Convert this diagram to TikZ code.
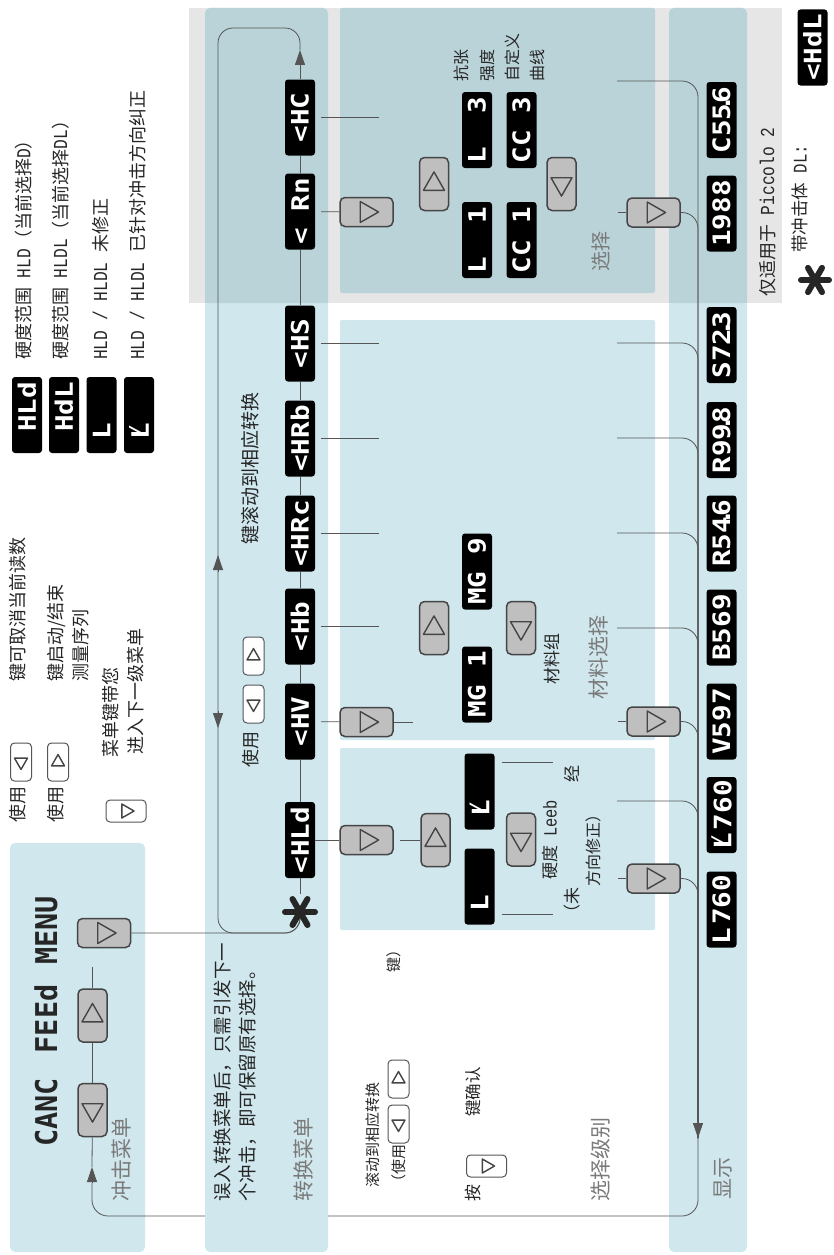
\documentclass[tikz,border=0pt]{standalone}
\usepackage{fontspec}
\usepackage{graphicx}
\setmainfont{Noto Sans CJK SC}
\newfontfamily\lat[Scale=1.1, FakeStretch=0.82]{Liberation Mono}
\newfontfamily\segfont[FakeStretch=1.15]{DejaVu Sans Mono}
\newfontfamily\bigseg[FakeStretch=0.95]{DejaVu Sans Mono}
\usetikzlibrary{arrows.meta}

\definecolor{panel}{HTML}{CFE7ED}
\definecolor{greybg}{HTML}{E6E6E6}
\definecolor{ovl}{HTML}{B9D3D8}
\definecolor{btnfill}{HTML}{BFBFBF}
\definecolor{btnline}{HTML}{454545}
\definecolor{connc}{HTML}{555555}
\definecolor{hdrgray}{HTML}{7A7A7A}
\definecolor{ink}{HTML}{262626}

\newcommand{\dpt}{\makebox[0pt]{.}}
\newcommand{\Lp}{L\makebox[0pt][r]{\raisebox{0.32em}{\scalebox{0.7}{/}}\hspace{2pt}}}

\tikzset{
  conn/.style={draw=connc, line width=0.8pt},
  arr/.style={-{Triangle[length=15pt,width=10pt]}},
  disp/.style={fill=black, rounded corners=3pt, rotate=90, minimum width=76pt, minimum height=30pt, inner sep=0pt, text=white, font=\segfont\bfseries\fontsize{24}{24}\selectfont},
  txt/.style={rotate=90, anchor=base west, inner sep=0pt, text=ink, font=\fontsize{18}{22}\selectfont},
  hdr/.style={txt, text=hdrgray, font=\fontsize{21}{25}\selectfont},
  tri/.style={draw=btnline, line width=1.4pt, sharp corners, line join=round},
  btn/.style={draw=btnline, fill=btnfill, line width=1.5pt, rounded corners=5pt, inner sep=0pt},
  kbtn/.style={draw=connc, fill=white, line width=1pt, rounded corners=4pt, inner sep=0pt},
  tall/.style={minimum width=29pt, minimum height=53pt},
  wide/.style={minimum width=53pt, minimum height=29pt},
  ktall/.style={minimum width=21pt, minimum height=38pt},
  kwide/.style={minimum width=40pt, minimum height=22pt},
  trdn/.style={path picture={\draw[tri] ([shift={(-#1pt,0.6*#1pt)}]path picture bounding box.center) -- ++(2*#1pt,0pt) -- ++(-#1pt,-1.75*#1pt) -- cycle;}},
  trup/.style={path picture={\draw[tri] ([shift={(-#1pt,-0.6*#1pt)}]path picture bounding box.center) -- ++(2*#1pt,0pt) -- ++(-#1pt,1.75*#1pt) -- cycle;}},
  trrt/.style={path picture={\draw[tri] ([shift={(-0.6*#1pt,#1pt)}]path picture bounding box.center) -- ++(0pt,-2*#1pt) -- ++(1.75*#1pt,#1pt) -- cycle;}},
  spoke/.style={draw=ink, line width=6pt, line cap=round},
}

\begin{document}
\begin{tikzpicture}[x=1pt, y=-1pt]
    \useasboundingbox (0,0) rectangle (833,1255);
    \def\mx{300}   % 转换菜单列
    \def\bx{366.5} % 确认键列
    \def\dx{721.5} % 显示列

    % 背景
    \fill[greybg] (189,8) rectangle (782,303);
    \fill[panel, rounded corners=5pt] (10,843) rectangle (145,1252);
    \fill[panel, rounded corners=5pt] (669,8) rectangle (747,1252);
    \fill[ovl, rounded corners=5pt] (669,8) rectangle (747,303);
    \fill[ovl] (669,290) rectangle (747,303);

    % 返回路径（在面板下面）
    \coordinate (darr) at (698,1138);
    \coordinate (floor) at (92,1216);
    \coordinate (uarrB) at (92,1183);
    \coordinate (uarr) at (92,1167);
    \draw[conn, rounded corners=16pt] (darr) |- (floor) -- (uarrB);

    \fill[panel, rounded corners=5pt] (205,8) rectangle (328,1252);
    \fill[ovl, rounded corners=5pt] (205,8) rectangle (328,303);
    \fill[ovl] (205,290) rectangle (328,303);
    \fill[ovl, rounded corners=2pt] (340,8) rectangle (655,293);
    \fill[panel, rounded corners=2pt] (340,320) rectangle (655,740);
    \fill[panel, rounded corners=2pt] (340,748) rectangle (655,930);

    % 图例
    \node[txt] (gUse1) at (24,823) {使用};
    \node[kbtn, ktall, trdn=6.5] (gK1) at (21,762) {};
    \node[txt] (gCancel) at (24,682) {键可取消当前读数};
    \node[txt] (gUse2) at (62,823) {使用};
    \node[kbtn, ktall, trup=6.5] (gK2) at (58,762) {};
    \node[txt] (gStartA) at (62.5,682) {键启动/结束};
    \node[txt] (gStartB) at (87,682) {测量序列};
    \node[kbtn, kwide, trrt=7] (gK3) at (126,811) {};
    \node[txt] (gMenuA) at (117,758) {菜单键带您};
    \node[txt] (gMenuB) at (142,755) {进入下一级菜单};

    \node[disp] (gHLd) at (27,415) {~HLd};
    \node[disp] (gHdL) at (64,415) {~HdL};
    \node[disp] (gL) at (101.5,415) {L~~~};
    \node[disp] (gLc) at (139,415) {\Lp~~~};
    \node[txt] (gHLdT) at (30.5,360) {硬度范围{\lat\ HLD}（当前选择{\lat D}）};
    \node[txt] (gHdLT) at (67,360) {硬度范围{\lat\ HLDL}（当前选择{\lat DL}）};
    \node[txt] (gLT) at (107,360) {{\lat HLD / HLDL\ }未修正};
    \node[txt] (gLcT) at (144,360) {{\lat HLD / HLDL\ }已针对冲击方向纠正};

    % 冲击菜单
    \node[rotate=90, anchor=west, inner sep=0pt, text=ink, font=\bigseg\bfseries\fontsize{30}{30}\selectfont] (canc) at (46,1147) {CANC\hspace{25pt}FEEd\hspace{20pt}MENU};
    \node[btn, tall, trdn=10.5] (cdn) at (92.5,1110) {};
    \node[btn, tall, trup=10.5] (cup) at (92.5,1015.5) {};
    \node[btn, wide, trrt=10.5] (cok) at (104,933) {};
    \coordinate (ctop) at (92.5,967);
    \draw[conn] (cdn) -- (cup) -- (ctop);
    \draw[conn] (uarr) -- (cdn);
    \draw[conn, arr] (uarrB) -- (uarr);
    \node[hdr] (tImpact) at (129,1202) {冲击菜单};

    % 转换菜单
    \node[txt, font=\fontsize{18.5}{22}\selectfont] (tHintA) at (229,1202) {误入转换菜单后，只需引发下一};
    \node[txt, font=\fontsize{18.5}{22}\selectfont] (tHintB) at (254,1202) {个冲击，即可保留原有选择。};
    \node[hdr] (tSwitch) at (311,1202) {转换菜单};

    \node[disp] (HLd) at (\mx,840) {<HLd};
    \node[disp] (HV) at (\mx,721.5) {<HV~};
    \node[disp] (Hb) at (\mx,626.5) {<Hb~};
    \node[disp] (HRc) at (\mx,533.5) {<HRc};
    \node[disp] (HRb) at (\mx,438.5) {<HRb};
    \node[disp] (HS) at (\mx,343.5) {<HS~};
    \node[disp] (Rn) at (\mx,211.5) {<~Rn};
    \node[disp] (HC) at (\mx,117.5) {<HC~};
    \node[minimum size=36pt, inner sep=0pt] (star) at (\mx,912) {};

    \coordinate (ltop) at (\mx,50);
    \coordinate (lleft) at (218,28);
    \coordinate (lbot) at (218,933);
    \coordinate (jn) at (\mx,933);
    \draw[conn] (star) -- (HLd) -- (HV) -- (Hb) -- (HRc) -- (HRb) -- (HS) -- (Rn) -- (HC);
    \draw[conn, arr] (HC) -- (ltop);
    \draw[conn, rounded corners=15pt] (ltop) |- (lleft) -- (lbot) -- (jn) -- (star.center);
    \draw[conn, rounded corners=15pt] (cok) -- (jn) -- (star.center);
    \foreach \a in {0,60,120}
        \draw[spoke] ([shift={(\a:15pt)}]star.center) -- ([shift={(\a+180:15pt)}]star.center);

    % 滚动箭头
    \coordinate (sUpB) at (218,572);
    \coordinate (sUp) at (218,555);
    \coordinate (sDnB) at (218,711);
    \coordinate (sDn) at (218,728);
    \draw[conn, arr] (sUpB) -- (sUp);
    \draw[conn, arr] (sDnB) -- (sDn);
    \node[txt] (tUse) at (257,768) {使用};
    \node[kbtn, ktall, trdn=6.5] (sKdn) at (253.5,704) {};
    \node[kbtn, ktall, trup=6.5] (sKup) at (253.5,656) {};
    \node[txt, font=\fontsize{19}{22}\selectfont] (tScroll) at (257,545) {键滚动到相应转换};

    % 向右的连线
    \foreach \n in {HC,HS,HRb,HRc,Hb} {
        \coordinate (\n-end) at ([xshift=64pt]\n.south);
        \draw[conn, shorten <=6pt] (\n.south) -- (\n-end);
    }
    \node[btn, wide, trrt=10.5] (bRn) at (\bx,212) {};
    \node[btn, wide, trrt=10.5] (bHV) at (\bx,722) {};
    \node[btn, wide, trrt=10.5] (bHLd) at (\bx,840) {};
    \coordinate (bHV-end) at (413,722);
    \draw[conn, shorten <=6pt] (Rn) -- (bRn);
    \draw[conn, shorten <=6pt] (HV) -- (bHV);
    \draw[conn] (bHV) -- (bHV-end);

    % 选择
    \node[btn, tall, trup=10.5] (upS) at (434,184) {};
    \node[btn, tall, trdn=10.5] (dnS) at (561.5,184) {};
    \node[disp] (L1) at (477,240) {L~~1};
    \node[disp] (L3) at (477,130) {L~~3};
    \node[disp] (CC1) at (521.5,240) {CC~1};
    \node[disp] (CC3) at (521.5,130) {CC~3};
    \node[txt, font=\fontsize{16}{18}\selectfont] (tTenA) at (467,82) {抗张};
    \node[txt, font=\fontsize{16}{18}\selectfont] (tTenB) at (493,82) {强度};
    \node[txt, font=\fontsize{16}{18}\selectfont] (tCusA) at (518,82) {自定义};
    \node[txt, font=\fontsize{16}{18}\selectfont] (tCusB) at (543,82) {曲线};
    \node[hdr, font=\fontsize{20}{24}\selectfont] (tSel) at (608,272) {选择};
    \node[btn, wide, trrt=10.5] (selB) at (653.5,212.5) {};
    \coordinate (selB-in) at (618,212.5);
    \draw[conn] (selB-in) -- (selB);

    % 材料选择
    \node[btn, tall, trup=10.5] (upM) at (434,628) {};
    \node[btn, tall, trdn=10.5] (dnM) at (521,628) {};
    \node[disp] (MG1) at (477,684.5) {MG~1};
    \node[disp] (MG9) at (477,571.5) {MG~9};
    \node[txt, font=\fontsize{17}{20}\selectfont] (tGrp) at (558.5,685) {材料组};
    \node[hdr] (tMat) at (606,700) {材料选择};
    \node[btn, wide, trrt=10.5] (matB) at (653.5,721.5) {};
    \coordinate (matB-in) at (618,721.5);
    \draw[conn] (matB-in) -- (matB);

    % 硬度 Leeb
    \node[btn, tall, trup=10.5] (upL) at (435.5,840) {};
    \node[btn, tall, trdn=10.5] (dnL) at (521,839.5) {};
    \draw[conn, shorten <=6pt] (HLd) -- (bHLd) -- (upL);
    \node[disp] (Lc) at (479.5,791.5) {\Lp~~~};
    \node[disp] (Lu) at (479.5,886.5) {L~~~};
    \coordinate (Lc-end) at (553,762);
    \coordinate (Lu-end) at (553,914);
    \draw[conn] ([shift={(7pt,29.5pt)}]Lc.south) -- (Lc-end);
    \draw[conn] ([shift={(7pt,-27.5pt)}]Lu.south) -- (Lu-end);
    \node[txt, font=\fontsize{17}{20}\selectfont] (tLeebA) at (556.5,880) {硬度{\lat\ Leeb}};
    \node[txt, font=\fontsize{17}{20}\selectfont] (tLeebB) at (578.5,922) {（未};
    \node[txt, font=\fontsize{17}{20}\selectfont] (tLeebC) at (578.5,783) {经};
    \node[txt, font=\fontsize{16}{18}\selectfont] (tLeebD) at (599,887) {方向修正）};
    \node[btn, wide, trrt=10.5] (leebB) at (653.5,878.5) {};
    \coordinate (leebB-in) at (618,878.5);
    \draw[conn] (leebB-in) -- (leebB);

    % 选择级别
    \node[txt, font=\fontsize{15}{18}\selectfont] (tLvA) at (378,1188) {滚动到相应转换};
    \node[txt, font=\fontsize{15}{18}\selectfont] (tLvB) at (404,1190) {（使用};
    \node[kbtn, ktall, trdn=6.5] (lvDn) at (398.5,1124) {};
    \node[kbtn, ktall, trup=6.5] (lvUp) at (398.5,1079) {};
    \node[txt, font=\fontsize{15}{18}\selectfont] (tLvC) at (399,973) {键）};
    \node[txt, font=\fontsize{17}{20}\selectfont] (tPress) at (479.5,1202) {按};
    \node[kbtn, kwide, trrt=7] (lvOk) at (486.5,1166) {};
    \node[txt, font=\fontsize{16.5}{20}\selectfont] (tConfirm) at (479.5,1117) {键确认};
    \node[hdr] (tLevel) at (608,1202) {选择级别};

    % 显示
    \foreach \y in {343,438,533,628,801} {
        \coordinate (d\y) at (617,\y);
        \draw[conn, rounded corners=16pt] (d\y) -| (darr);
    }
    \draw[conn, rounded corners=16pt] (selB) -| (darr);
    \draw[conn, rounded corners=16pt] (matB) -| (darr);
    \draw[conn, rounded corners=16pt] (leebB) -| (darr);
    \coordinate (dtop) at (617,81);
    \draw[conn, rounded corners=16pt, arr] (dtop) -| (darr);

    \node[disp] (dC) at (\dx,120) {C55\dpt6};
    \node[disp] (d1988) at (\dx,213.5) {1988};
    \node[disp] (dS) at (\dx,345) {S72\dpt3};
    \node[disp] (dR9) at (\dx,440) {R99\dpt8};
    \node[disp] (dR5) at (\dx,533.5) {R54\dpt6};
    \node[disp] (dB) at (\dx,627.5) {B569};
    \node[disp] (dV) at (\dx,721.5) {V597};
    \node[disp] (dLc) at (\dx,815) {\Lp\hspace{3pt}760};
    \node[disp] (dL) at (\dx,909.5) {L\hspace{3pt}760};
    \node[hdr] (tShow) at (730,1200) {显示};

    % 注释
    \node[txt] (tPic) at (774,297) {仅适用于{\lat\ Piccolo 2}};
    \node[txt, font=\fontsize{17.5}{20}\selectfont] (tDL) at (806.5,253) {带冲击体{\lat\ DL:}};
    \node[disp] (gHdL2) at (812.5,47.5) {<HdL};
    \node[minimum size=34pt, inner sep=0pt] (star2) at (815,280) {};
    \foreach \a in {0,60,120}
        \draw[spoke] ([shift={(\a:14pt)}]star2.center) -- ([shift={(\a+180:14pt)}]star2.center);
\end{tikzpicture}
\end{document}
